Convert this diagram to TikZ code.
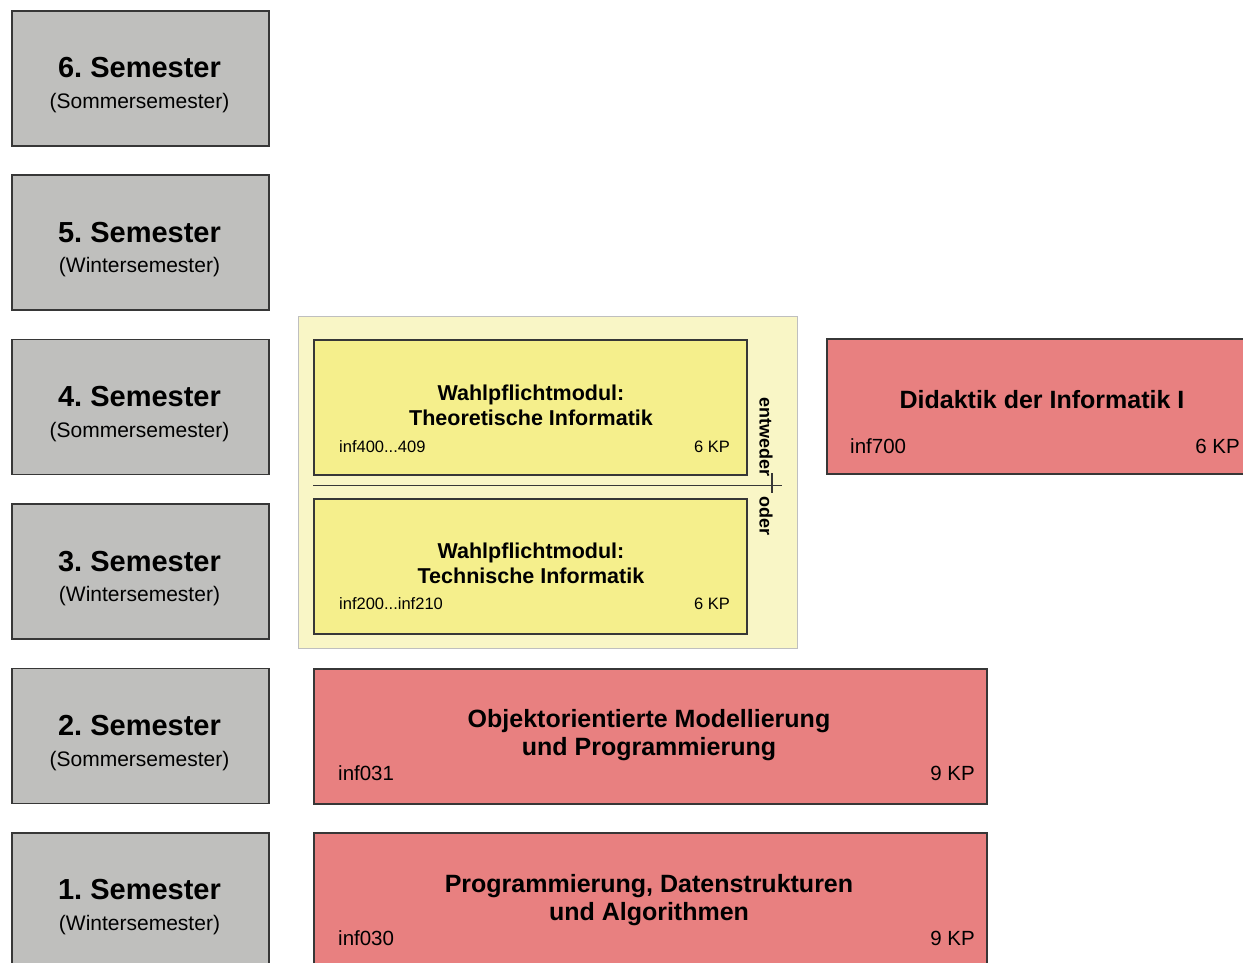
\documentclass[tikz,border=0pt]{standalone}
\usepackage{fontspec}
\setmainfont{Liberation Sans}
\frenchspacing
\definecolor{semgrau}{RGB}{191,191,189}
\definecolor{modrot}{RGB}{232,128,128}
\definecolor{wahlhell}{RGB}{249,246,198}
\definecolor{wahlgelb}{RGB}{245,239,140}
\definecolor{rahmen}{RGB}{55,55,55}

\begin{document}
\begin{tikzpicture}[x=1pt,y=-1pt,
    box/.style={draw=rahmen,line width=1.5pt,anchor=north west,inner sep=0pt},
    sembox/.style={box,fill=semgrau,minimum width=257pt,minimum height=135pt},
    modbox/.style={box,fill=modrot,minimum height=135pt},
    wahlbox/.style={box,fill=wahlgelb,minimum width=433pt,minimum height=135pt},
    semtitel/.style={inner sep=0pt,font=\bfseries\fontsize{29}{29}\selectfont},
    semart/.style={inner sep=0pt,font=\fontsize{21}{21}\selectfont},
    modtitel/.style={inner sep=0pt,align=center,font=\bfseries\fontsize{25}{28}\selectfont},
    modcode/.style={inner sep=0pt,font=\fontsize{20.5}{20.5}\selectfont},
    wahltitel/.style={inner sep=0pt,align=center,font=\bfseries\fontsize{21.5}{25}\selectfont},
    wahlcode/.style={inner sep=0pt,font=\fontsize{16.5}{16.5}\selectfont},
    dreh/.style={inner sep=0pt,rotate=-90,font=\bfseries\fontsize{18}{18}\selectfont}]
  \clip (0,0) rectangle (1243,962);
  \fill[white] (0,0) rectangle (1243,962);

  % Semester
  \foreach \n/\art in {6/Sommer,5/Winter,4/Sommer,3/Winter,2/Sommer,1/Winter}{
    \pgfmathsetmacro\oben{10+(6-\n)*164.4}
    \node[sembox] (sem\n) at (11,\oben) {};
    \node[semtitel] (semtitel\n) at (139.5,\oben+58) {\n. Semester};
    \node[semart] (semart\n) at (139.5,\oben+93) {(\art semester)};
  }

  % Wahlpflicht
  \node[box,draw=black!25,line width=1pt,fill=wahlhell,minimum width=499pt,minimum height=332pt] (wahl) at (298,316) {};
  \node[wahlbox] (theo) at (313,339) {};
  \node[wahltitel] (theotitel) at (531,405) {Wahlpflichtmodul:\\Theoretische Informatik};
  \node[wahlcode,anchor=west] (theocode) at (339,447) {inf400...409};
  \node[wahlcode,anchor=east] (theokp) at (730,447) {6 KP};
  \node[wahlbox] (tech) at (313,498) {};
  \node[wahltitel] (techtitel) at (531,563) {Wahlpflichtmodul:\\Technische Informatik};
  \node[wahlcode,anchor=west] (techcode) at (339,604) {inf200...inf210};
  \node[wahlcode,anchor=east] (techkp) at (730,604) {6 KP};
  \draw[rahmen,line width=1.5pt] (313,485.5) -- (782,485.5);
  \draw[rahmen,line width=1.5pt] (772,473) -- (772,493);
  \node[dreh] (entweder) at (766,437) {entweder};
  \node[dreh] (oder) at (766,516) {oder};

  % Pflichtmodule
  \node[modbox,minimum width=450pt] (inf700) at (826,338) {};
  \node[modtitel] (inf700titel) at (1042,400) {Didaktik der Informatik I};
  \node[modcode,anchor=west] (inf700code) at (850,446) {inf700};
  \node[modcode,anchor=east] (inf700kp) at (1240,446) {6 KP};

  \node[modbox,minimum width=673pt] (inf031) at (313,668) {};
  \node[modtitel] (inf031titel) at (649,735) {Objektorientierte Modellierung\\und Programmierung};
  \node[modcode,anchor=west] (inf031code) at (338,773) {inf031};
  \node[modcode,anchor=east] (inf031kp) at (975,773) {9 KP};

  \node[modbox,minimum width=673pt] (inf030) at (313,832) {};
  \node[modtitel] (inf030titel) at (649,900) {Programmierung, Datenstrukturen\\und Algorithmen};
  \node[modcode,anchor=west] (inf030code) at (338,938) {inf030};
  \node[modcode,anchor=east] (inf030kp) at (975,938) {9 KP};
\end{tikzpicture}
\end{document}
